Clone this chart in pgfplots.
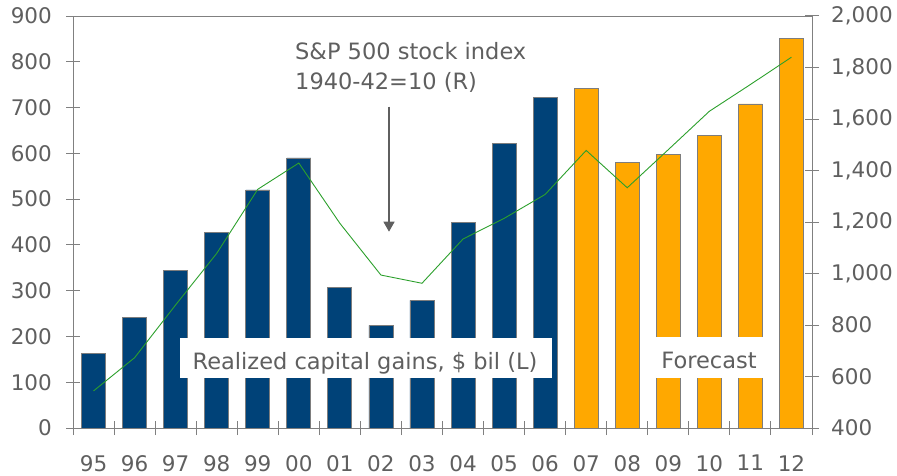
\documentclass[border=0pt]{standalone}
\usepackage{pgfplots}
\pgfplotsset{compat=1.18}
\usepackage{fontspec}
\setmainfont{DejaVu Sans}
\usetikzlibrary{arrows.meta}
\definecolor{barblue}{RGB}{0,66,120}
\definecolor{barorange}{RGB}{255,168,0}
\definecolor{linegreen}{RGB}{44,160,44}
\definecolor{txtgray}{RGB}{95,95,95}
\definecolor{axgray}{RGB}{128,128,128}
\definecolor{bargray}{RGB}{125,125,125}
\newcommand\tkfont{\fontsize{21.5}{26}\selectfont}
\newcommand\anfont{\fontsize{22.5}{27}\selectfont}
\begin{document}
\begin{tikzpicture}[x=1pt,y=1pt]
\clip (0,0) rectangle (897,475);
\begin{axis}[
  at={(73pt,47pt)}, anchor=south west,
  scale only axis, width=739pt, height=412pt,
  xmin=-0.5, xmax=17.5, ymin=0, ymax=900,
  xtick={0,...,17},
  xticklabels={95,96,97,98,99,00,01,02,03,04,05,06,07,08,09,10,11,12},
  minor xtick={-0.5,0.5,...,17.5},
  major x tick style={draw=none},
  ytick={0,100,...,900},
  xtick pos=lower, ytick pos=left,
  tick align=center,
  major tick length=14pt, minor tick length=14pt,
  tick style={axgray, line width=1pt},
  axis line style={axgray, line width=1pt},
  /pgf/number format/assume math mode=true,
  ticklabel style={font=\tkfont, text=txtgray, inner sep=0pt},
  yticklabel style={xshift=-14pt},
  xticklabel style={yshift=-20pt},
]
\addplot[ybar, bar width=24pt, bar shift=0pt, fill=barblue, draw=bargray, line width=0.8pt]
  coordinates {(0,163)(1,242)(2,344)(3,428)(4,520)(5,590)(6,307)(7,224)(8,279)(9,450)(10,622)(11,723)};
\addplot[ybar, bar width=24pt, bar shift=0pt, fill=barorange, draw=bargray, line width=0.8pt]
  coordinates {(12,741)(13,580)(14,598)(15,639)(16,708)(17,851)};
\end{axis}
\begin{axis}[
  at={(73pt,47pt)}, anchor=south west,
  scale only axis, width=739pt, height=412pt,
  xmin=-0.5, xmax=17.5, ymin=400, ymax=2000,
  axis y line*=right, axis x line=none,
  ytick={400,600,...,2000},
  tick align=center,
  major tick length=14pt,
  tick style={axgray, line width=1pt},
  axis line style={axgray, line width=1pt},
  /pgf/number format/assume math mode=true,
  /pgf/number format/1000 sep={,},
  ticklabel style={font=\tkfont, text=txtgray, inner sep=0pt},
  yticklabel style={xshift=12pt},
]
\addplot[linegreen, line width=0.9pt, mark=none]
  coordinates {(0,544)(1,673)(2,878)(3,1078)(4,1327)(5,1429)(6,1195)(7,994)(8,962)(9,1134)(10,1214)(11,1307)(12,1478)(13,1333)(14,1481)(15,1630)(16,1734)(17,1840)};
\end{axis}
\fill[white] (180,97) rectangle (551.7,137);
\node[anchor=base, inner sep=0pt, text=txtgray, font=\anfont] at (365,106) {Realized capital gains, \$ bil (L)};
\fill[white] (646,97.3) rectangle (772,138.3);
\node[anchor=base, inner sep=0pt, text=txtgray, font=\anfont] at (709,106.7) {Forecast};
\node[anchor=base west, inner sep=0pt, text=txtgray, font=\anfont] at (295,415) {S\&P 500 stock index};
\node[anchor=base west, inner sep=0pt, text=txtgray, font=\anfont] at (295,385) {1940-42=10 (R)};
\draw[txtgray, line width=1.3pt, -{Triangle[width=11pt,length=10pt]}] (389,368.3) -- (389,243.3);
\end{tikzpicture}
\end{document}
